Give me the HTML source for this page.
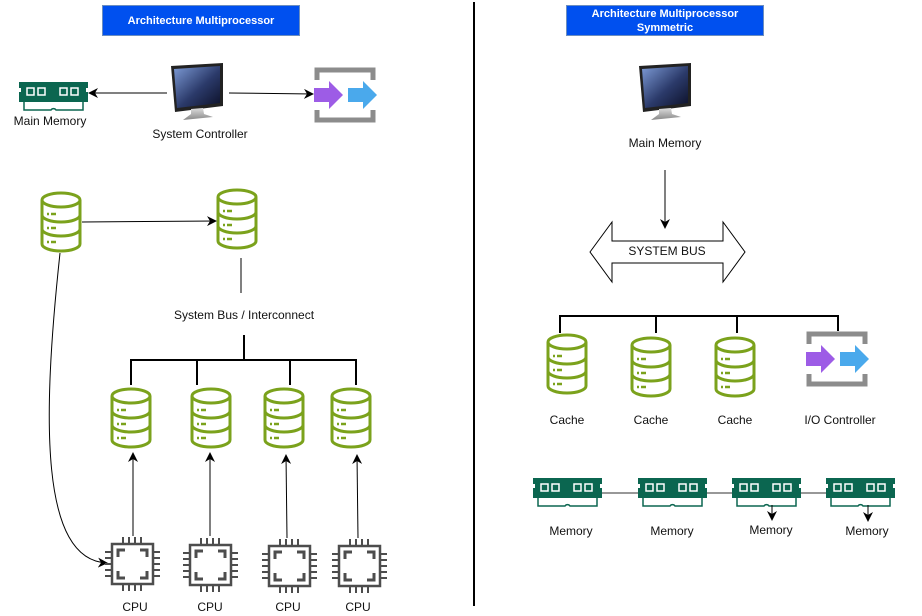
<!DOCTYPE html>
<html><head><meta charset="utf-8"><style>
html,body{margin:0;padding:0;background:#fff;width:922px;height:616px;overflow:hidden}
text{font-family:"Liberation Sans",Arial,sans-serif;font-size:12px;fill:#111}
</style></head><body>
<svg width="922" height="616" viewBox="0 0 922 616" xmlns="http://www.w3.org/2000/svg">
<defs>
<marker id="ah" markerWidth="10" markerHeight="10" refX="9" refY="5" orient="auto" markerUnits="userSpaceOnUse">
<path d="M0,0 L10,5 L0,10 L3,5 Z" fill="#000"/></marker>
<g id="db" fill="none" stroke="#7ba21c" stroke-width="3">
<ellipse cx="20" cy="8" rx="19" ry="7"/>
<path d="M1,8 V52 A19,7 0 0 0 39,52 V8"/>
<path d="M1,23 A19,7 0 0 0 39,23 M1,37 A19,7 0 0 0 39,37"/>
<path d="M6,22 h2 M10,22 h5 M6,36 h2 M10,36 h5 M6,50 h2 M10,50 h5" stroke-width="2.5"/>
</g>
<g id="cpu" fill="none" stroke="#4d4d4d" stroke-width="2.5">
<rect x="7" y="7" width="41" height="40"/>
<path d="M13,20 V13 H20 M35,13 H42 V20 M42,34 V41 H35 M20,41 H13 V34" stroke-width="3"/>
<path d="M18,0 v7 M24,0 v7 M30,0 v7 M36,0 v7 M18,47 v7 M24,47 v7 M30,47 v7 M36,47 v7 M0,15 h7 M0,21 h7 M0,27 h7 M0,33 h7 M0,39 h7 M48,15 h7 M48,21 h7 M48,27 h7 M48,33 h7 M48,39 h7" stroke-width="2"/>
</g>
<g id="ram">
<path d="M0,0 H69 V6 H67 V10 H69 V20 H0 V10 H2 V6 H0 Z" fill="#0b6650"/>
<path d="M5,20 V28 H32 A3,3 0 0 1 37,28 H64 V20" fill="none" stroke="#0b6650" stroke-width="1.5"/>
<g fill="none" stroke="#fff" stroke-width="1.5">
<rect x="8" y="6" width="7" height="7"/><rect x="19" y="6" width="7" height="7"/>
<rect x="41" y="6" width="7" height="7"/><rect x="52" y="6" width="7" height="7"/></g>
</g>
<linearGradient id="scr" x1="0" y1="0" x2="1" y2="1"><stop offset="0" stop-color="#7d9bd6"/><stop offset="0.55" stop-color="#2b3a6a"/><stop offset="1" stop-color="#0c1028"/></linearGradient>
<linearGradient id="stand" x1="0" y1="0" x2="0" y2="1"><stop offset="0" stop-color="#ddd"/><stop offset="1" stop-color="#888"/></linearGradient>
<g id="mon">
<path d="M0,3 L52,0 V43 L4,49 Z" fill="#222"/>
<path d="M3,6 L49,3 V40 L6,45 Z" fill="url(#scr)"/>
<path d="M20,46 L32,45 L33,51 L42,54 L12,57 L20,51 Z" fill="url(#stand)"/>
</g>
<g id="io">
<path d="M3,13 V3 H59 V13 M3,43 V53 H59 V43" fill="none" stroke="#8c8c8c" stroke-width="5"/>
<path d="M0,21 H15 V14 L29,28 L15,42 V35 H0 Z" fill="#9d5ce6"/>
<path d="M34,21 H49 V14 L63,28 L49,42 V35 H34 Z" fill="#4aa9ec"/>
</g>
</defs>

<line x1="474" y1="2" x2="474" y2="606" stroke="#000" stroke-width="2"/>

<rect x="102.5" y="5.5" width="197" height="30" fill="#0050ef" stroke="#6c8ebf"/>
<text x="201" y="24" text-anchor="middle" style="fill:#fff;font-weight:bold;font-size:11px">Architecture Multiprocessor</text>
<rect x="566.5" y="5.5" width="197" height="30" fill="#0050ef" stroke="#6c8ebf"/>
<text x="665" y="17" text-anchor="middle" style="fill:#fff;font-weight:bold;font-size:11px">Architecture Multiprocessor</text>
<text x="665" y="31" text-anchor="middle" style="fill:#fff;font-weight:bold;font-size:11px">Symmetric</text>

<use href="#ram" x="19" y="82"/>
<text x="50" y="125" text-anchor="middle">Main Memory</text>
<use href="#mon" x="171" y="63"/>
<text x="200" y="138" text-anchor="middle">System Controller</text>
<use href="#io" x="314" y="67"/>
<line x1="167" y1="93" x2="89" y2="93" stroke="#000" marker-end="url(#ah)"/>
<line x1="229" y1="93" x2="313" y2="94" stroke="#000" marker-end="url(#ah)"/>

<use href="#db" x="41" y="192"/>
<use href="#db" x="217" y="189"/>
<line x1="82" y1="222" x2="216" y2="221" stroke="#000" marker-end="url(#ah)"/>
<path d="M60,253 C42,420 40,560 107,563" fill="none" stroke="#000" marker-end="url(#ah)"/>
<line x1="241" y1="258" x2="241" y2="293" stroke="#000"/>
<text x="244" y="319" text-anchor="middle">System Bus / Interconnect</text>
<path d="M244,335 V360 M131,385 V360 H356 V385 M197,385 V360 M290,385 V360" fill="none" stroke="#000" stroke-width="2"/>
<use href="#db" x="111" y="388"/>
<use href="#db" x="191" y="388"/>
<use href="#db" x="264" y="388"/>
<use href="#db" x="331" y="388"/>
<g stroke="#000" marker-end="url(#ah)">
<line x1="133" y1="536" x2="133" y2="453"/>
<line x1="210" y1="536" x2="210" y2="453"/>
<line x1="287" y1="538" x2="286" y2="455"/>
<line x1="358" y1="538" x2="357" y2="455"/>
</g>
<use href="#cpu" x="105" y="537"/>
<use href="#cpu" x="183" y="538"/>
<use href="#cpu" x="262" y="539"/>
<use href="#cpu" x="332" y="539"/>
<text x="135" y="611" text-anchor="middle">CPU</text>
<text x="210" y="611" text-anchor="middle">CPU</text>
<text x="288" y="611" text-anchor="middle">CPU</text>
<text x="358" y="611" text-anchor="middle">CPU</text>

<use href="#mon" x="639" y="63"/>
<text x="665" y="147" text-anchor="middle">Main Memory</text>
<line x1="665" y1="170" x2="665" y2="228" stroke="#000" marker-end="url(#ah)"/>
<path d="M590,252 L612,222 V241 H723 V222 L745,252 L723,282 V263 H612 V282 Z" fill="#fff" stroke="#000"/>
<text x="667" y="255" text-anchor="middle">SYSTEM BUS</text>
<path d="M560,333 V316 H838 V331 M656,333 V316 M737,333 V316" fill="none" stroke="#000" stroke-width="2"/>
<use href="#db" x="547" y="334"/>
<use href="#db" x="631" y="337"/>
<use href="#db" x="715" y="337"/>
<use href="#io" x="806" y="331"/>
<text x="567" y="424" text-anchor="middle">Cache</text>
<text x="651" y="424" text-anchor="middle">Cache</text>
<text x="735" y="424" text-anchor="middle">Cache</text>
<text x="840" y="424" text-anchor="middle">I/O Controller</text>
<path d="M602,493 H638 M707,493 H732 M801,493 H826" stroke="#777" stroke-width="1.5"/>
<use href="#ram" x="533" y="478"/>
<use href="#ram" x="638" y="478"/>
<use href="#ram" x="732" y="478"/>
<use href="#ram" x="826" y="478"/>
<line x1="772" y1="505" x2="772" y2="520" stroke="#000" marker-end="url(#ah)"/>
<line x1="868" y1="505" x2="868" y2="521" stroke="#000" marker-end="url(#ah)"/>
<text x="571" y="535" text-anchor="middle">Memory</text>
<text x="672" y="535" text-anchor="middle">Memory</text>
<text x="771" y="534" text-anchor="middle">Memory</text>
<text x="867" y="535" text-anchor="middle">Memory</text>
</svg>
</body></html>
